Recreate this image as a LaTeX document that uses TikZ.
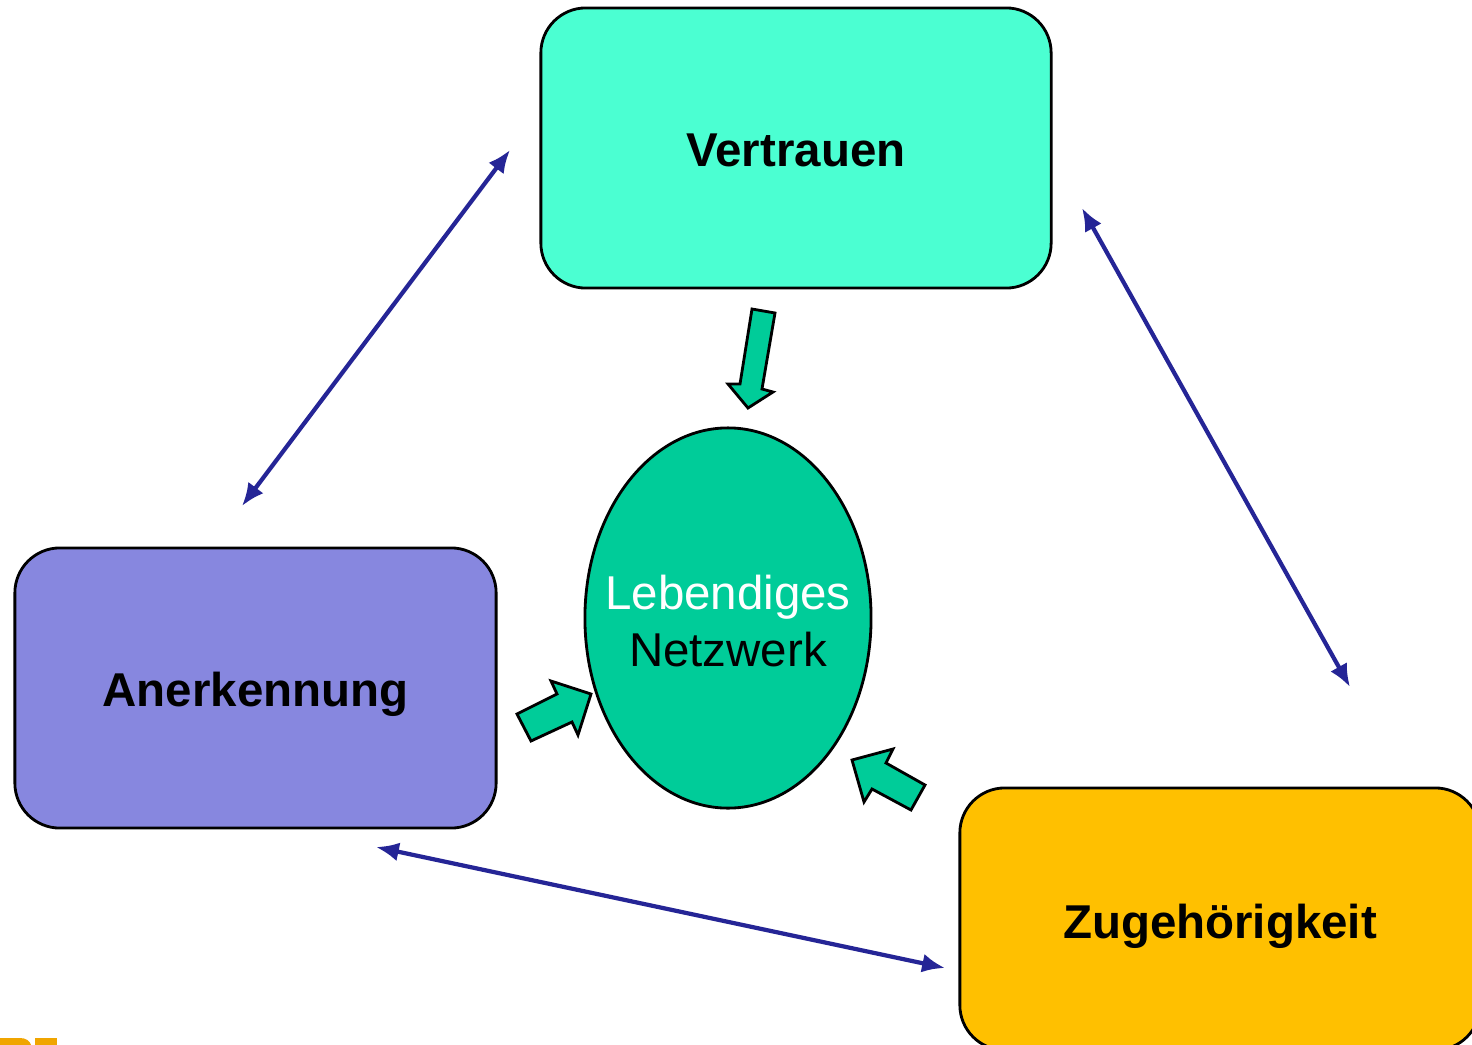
\documentclass[tikz,border=0pt]{standalone}
\usepackage{fontspec}
\setmainfont{Liberation Sans}
\usetikzlibrary{shapes.geometric,arrows.meta}
\definecolor{trustfill}{RGB}{75,255,210}
\definecolor{praisefill}{RGB}{135,135,223}
\definecolor{belongfill}{RGB}{255,192,0}
\definecolor{netfill}{RGB}{0,204,153}
\definecolor{linkblue}{RGB}{37,37,150}
\definecolor{logoorange}{RGB}{240,165,0}
\tikzset{
  valuebox/.style={draw=black, line width=0.8pt, rounded corners=0.45cm,
    minimum width=5.1cm, minimum height=2.8cm, inner sep=0pt,
    text height=13.8pt, text depth=3pt,
    font=\fontsize{13.5}{16.2}\selectfont\bfseries},
  netnode/.style={ellipse, draw=black, line width=0.8pt, fill=netfill,
    minimum width=2.86cm, minimum height=3.8cm, inner sep=0pt},
  nettext/.style={align=center, inner sep=0pt, yshift=-0.9pt,
    font=\fontsize{13.5}{16.2}\selectfont},
  link/.style={draw=linkblue, line width=1.2pt,
    {Latex[length=6.5pt,width=5.4pt]}-{Latex[length=6.5pt,width=5.4pt]}},
  flowarrow/.style={draw=black, line width=0.8pt, fill=netfill, line join=miter}
}
\begin{document}
\begin{tikzpicture}[x={(0.01cm,0)}, y={(0,-0.01cm)}]
  \clip (0,0) rectangle (1472,1045);
  \fill[white] (0,0) rectangle (1472,1045);

  % the three values
  \node[valuebox, fill=trustfill]  (trust)  at (796,148)  {Vertrauen};
  \node[valuebox, fill=praisefill, minimum width=4.81cm] (praise) at (255.5,688) {Anerkennung};
  \node[valuebox, fill=belongfill, minimum width=5.2cm, minimum height=2.62cm] (belong) at (1220,919) {Zugehörigkeit};

  % the network in the middle
  \node[netnode] (net) at (728,618) {};
  \node[nettext] (nettitle) at (net.center) {\textcolor{white}{Lebendiges}\\Netzwerk};

  % mutual links between the values
  \coordinate (tl1) at (242,506);  \coordinate (tl2) at (510,150);
  \coordinate (tr1) at (1082,208); \coordinate (tr2) at (1350,687);
  \coordinate (bt1) at (376,847);  \coordinate (bt2) at (945,968);
  \draw[link] (tl1) -- (tl2);
  \draw[link] (tr1) -- (tr2);
  \draw[link] (bt1) -- (bt2);

  % block arrows pointing into the network
  \draw[flowarrow] (752,309) -- (775,313) -- (762,389) -- (773,392)
    -- (748,408) -- (728,384) -- (740,384) -- cycle;
  \draw[flowarrow] (531,741) -- (517,714) -- (557,694) -- (551,681)
    -- (591,694) -- (578,735) -- (572,722) -- cycle;
  \draw[flowarrow] (852,760) -- (893,749) -- (886,763) -- (925,785)
    -- (911,810) -- (872,789) -- (864,802) -- cycle;

  % logo fragment at the lower left edge
  \fill[logoorange] (0,1045) -- (0,1038) -- (20,1038)
    .. controls (26,1038) and (30,1041) .. (31,1045) -- cycle;
  \fill[logoorange] (35,1038) rectangle (57,1045);
\end{tikzpicture}
\end{document}
